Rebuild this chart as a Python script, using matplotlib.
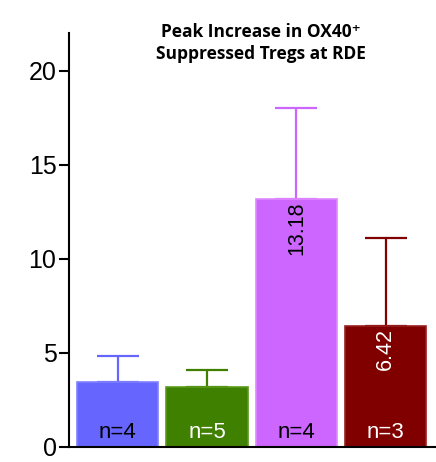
import matplotlib
matplotlib.use("Agg")
import matplotlib.pyplot as plt

# peak increase per group, with upper error (SEM)
groups = ["A", "B", "C", "D"]
means = [3.45, 3.2, 13.18, 6.42]
errors = [1.4, 0.9, 4.82, 4.71]
n_labels = ["n=4", "n=5", "n=4", "n=3"]
value_labels = [None, None, "13.18", "6.42"]
colors = ["#6666ff", "#408000", "#cc66ff", "#800000"]
edge_colors = ["#8080ff", "#5a9a1a", "#dd88ff", "#992020"]
text_colors = ["black", "white", "black", "white"]

plt.rcParams["font.family"] = ["Liberation Sans", "DejaVu Sans"]

fig = plt.figure(figsize=(4.36, 4.62), dpi=100)
ax = fig.add_axes([69 / 436, 15 / 462, (436 - 69) / 436, (447 - 33) / 462])

x = [0, 1, 2, 3]
ax.bar(x, means, width=0.91, color=colors, edgecolor=edge_colors, linewidth=1.2, zorder=2)
for xi, m, e, c in zip(x, means, errors, colors):
    ax.errorbar(xi, m, yerr=[[0], [e]], color=c, capsize=14.8, capthick=1.6,
                elinewidth=1.6, zorder=1)

for xi, lab, tc in zip(x, n_labels, text_colors):
    ax.text(xi, 0.75, lab, ha="center", va="center", fontsize=16, color=tc, zorder=3)

for xi, m, lab, tc in zip(x, means, value_labels, text_colors):
    if lab:
        ax.text(xi, m - 0.12, lab, ha="center", va="top", rotation=90,
                fontsize=15.5, color=tc, zorder=3)

ax.set_xlim(-0.455 - 8 / 89, 3.0 + 50 / 89)
ax.set_ylim(0, 22)
ax.set_yticks([0, 5, 10, 15, 20])
ax.set_xticks([])
ax.tick_params(axis="y", labelsize=18, length=7, width=1.5, pad=2)
for s in ["top", "right"]:
    ax.spines[s].set_visible(False)
for s in ["left", "bottom"]:
    ax.spines[s].set_linewidth(1.5)

fig.text(261 / 436, 1 - 43 / 462, "Peak Increase in OX40\u207a\nSuppressed Tregs at RDE",
         ha="center", va="center", fontsize=12.5, fontweight="bold",
         family=["Open Sans", "DejaVu Sans"], linespacing=1.35)

fig.savefig("out.png", dpi=100)
